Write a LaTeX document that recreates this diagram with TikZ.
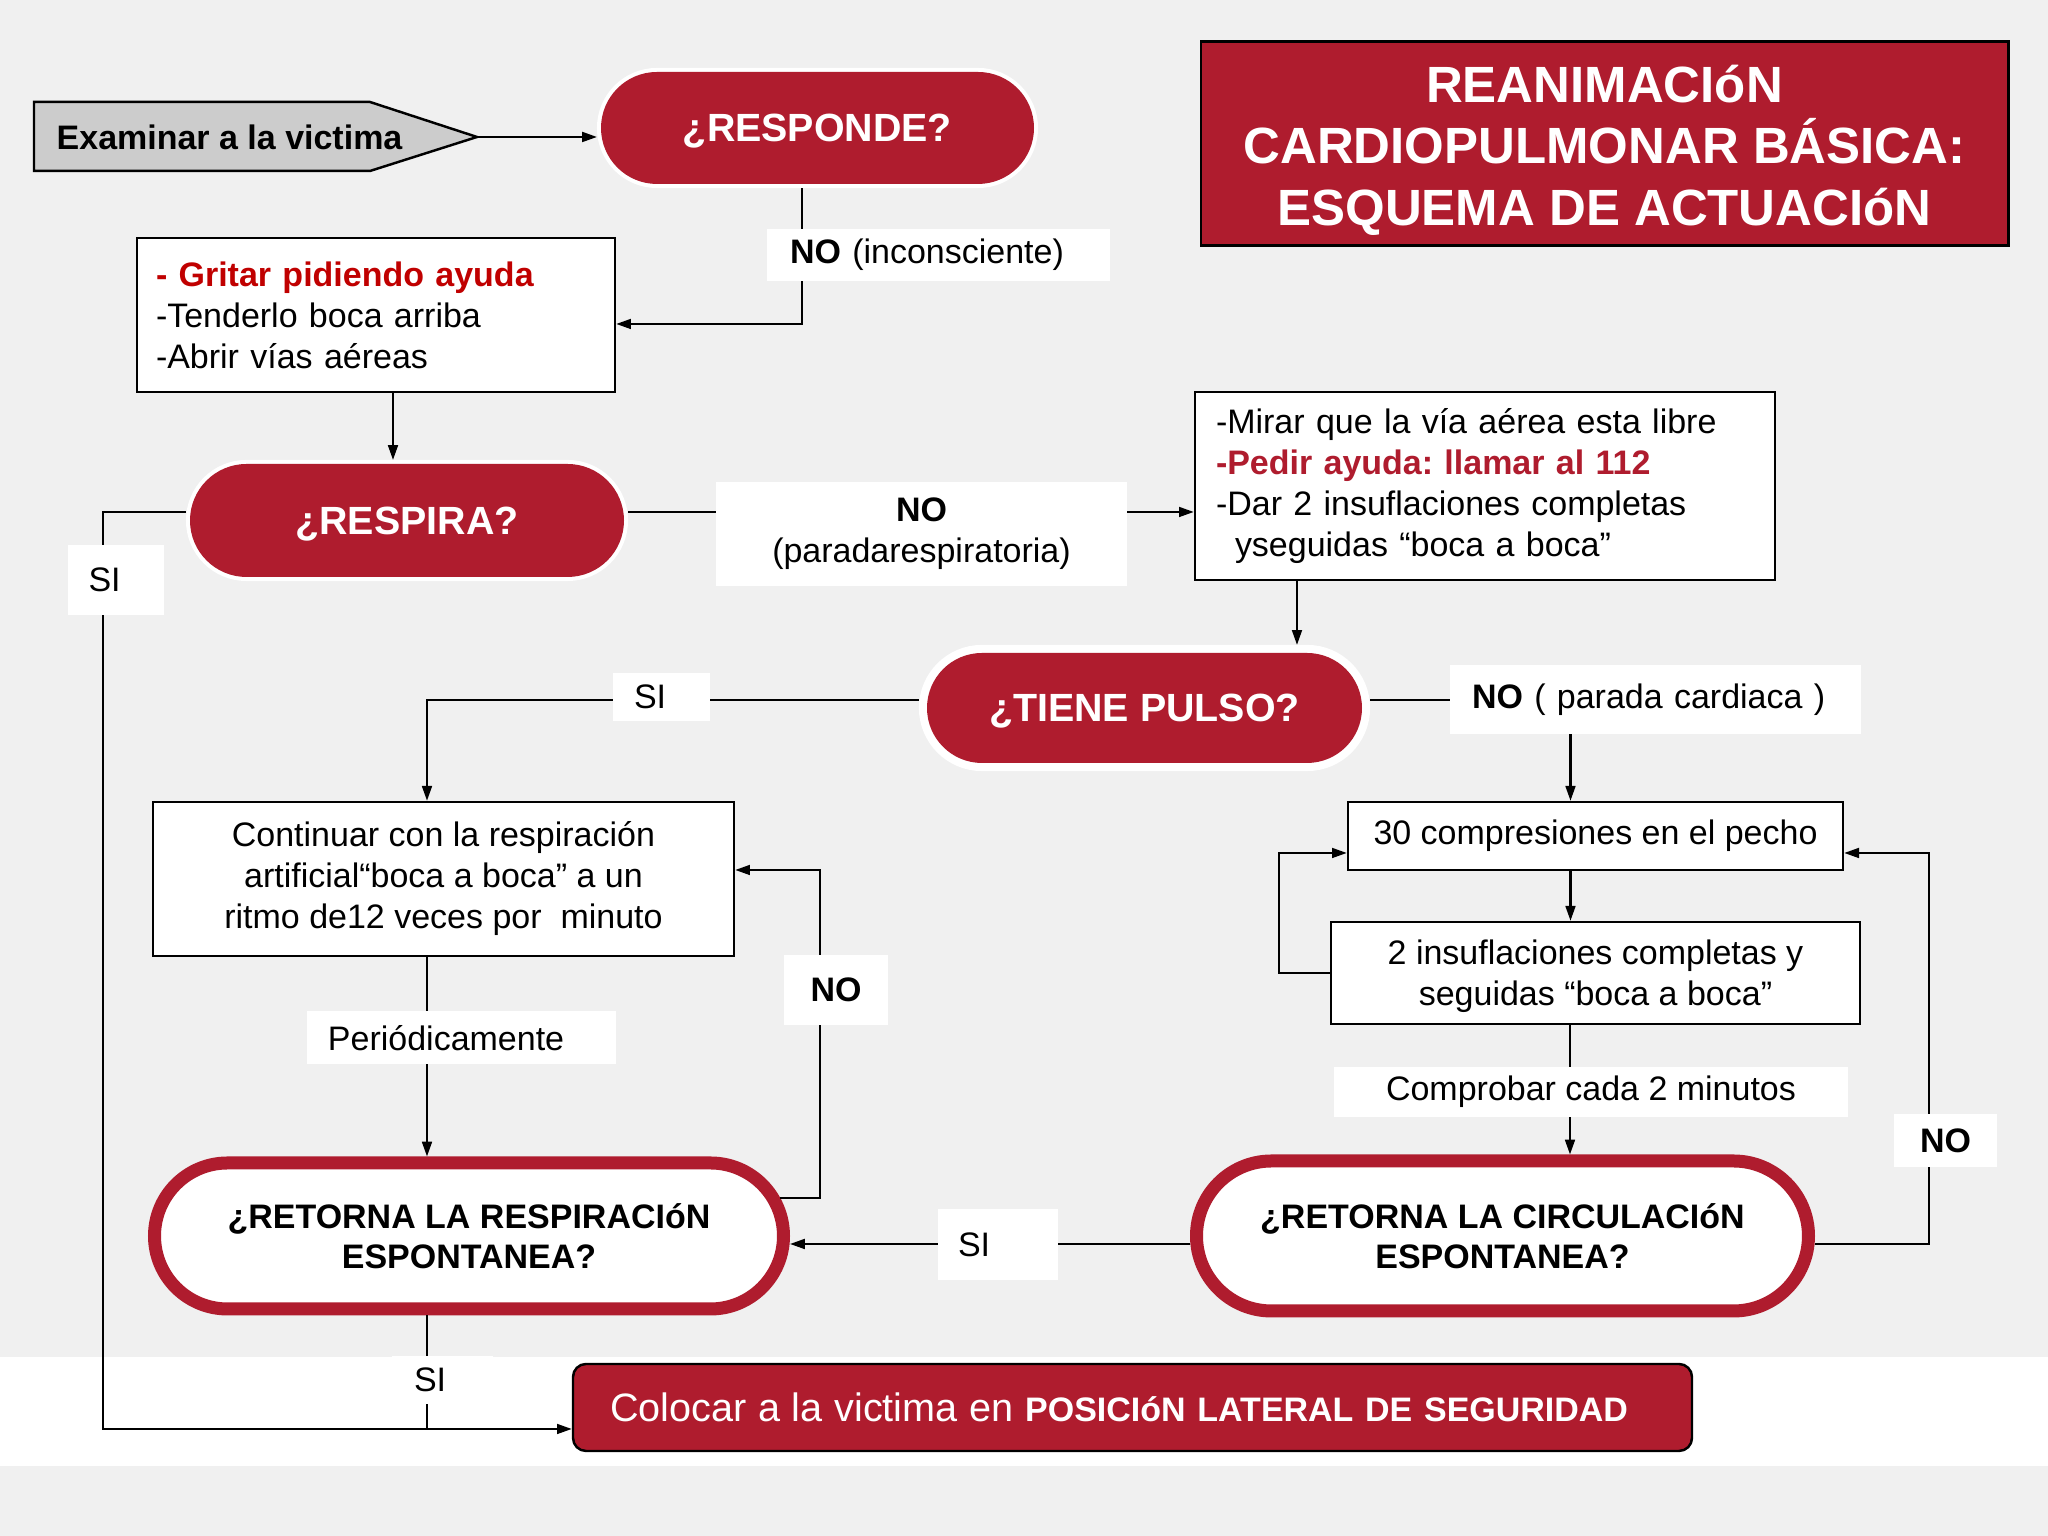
\documentclass[tikz,border=0pt]{standalone}
\usepackage{fontspec}
\setmainfont{Liberation Sans}
\usetikzlibrary{shapes.misc,arrows.meta}
\frenchspacing

\definecolor{rojocpr}{RGB}{175,28,46}
\definecolor{rojogrito}{RGB}{192,0,0}
\definecolor{fondo}{RGB}{240,240,240}
\definecolor{grisinicio}{RGB}{204,204,204}

\tikzset{
  pregunta/.style={rounded rectangle, fill=rojocpr, text=white, inner sep=0pt, text depth=0pt,
    font=\bfseries\fontsize{11.2}{13.4}\selectfont,
    preaction={draw=white,line width=2.3pt}, outer sep=1.15pt},
  retorno/.style={rounded rectangle, fill=white, draw=rojocpr, line width=3.7pt,
    outer sep=1.85pt, inner sep=0pt, align=center,
    font=\bfseries\fontsize{9.67}{11.5}\selectfont},
  caja/.style={rectangle, draw=black, fill=white, line width=0.7pt,
    font=\fontsize{9.67}{11.67}\selectfont},
  rotulo/.style={fill=white, inner sep=0pt, font=\fontsize{9.67}{11.67}\selectfont},
  linea/.style={black, line width=0.6pt},
  flecha/.style={linea, -{Triangle[length=4.2pt,width=2.8pt]}},
}

\begin{document}
\begin{tikzpicture}
\useasboundingbox (0,0) rectangle (20.48,15.36);
% Background
\fill[fondo] (0,0) rectangle (20.48,15.36);
\fill[white] (0,0.70) rectangle (20.48,1.79);
% Start shape
\draw[fill=grisinicio,line width=0.7pt] (0.34,14.34) -- (3.70,14.34) -- (4.77,13.99) -- (3.70,13.65) -- (0.34,13.65) -- cycle;
\node[anchor=west,inner sep=0pt,font=\bfseries\fontsize{9.67}{11.67}\selectfont] (examinar) at (0.56,13.99) {Examinar a la victima};
\coordinate (punta) at (4.77,13.99);
% Title
\node[draw=black, line width=0.85pt, fill=rojocpr, minimum width=8.07cm, minimum height=2.04cm] (titulo) at (16.045,13.92) {};
\node[text=white, align=center, inner sep=0pt, font=\bfseries\fontsize{14.5}{17.5}\selectfont] (titulotexto)
  at ([yshift=-0.6mm]titulo.center) {REANIMACIóN\\CARDIOPULMONAR BÁSICA:\\ESQUEMA DE ACTUACIóN};
% Questions
\node[pregunta, minimum width=4.33cm, minimum height=1.12cm] (responde) at (8.175,14.08) {¿RESPONDE?};
\node[pregunta, minimum width=4.34cm, minimum height=1.13cm] (respira) at (4.07,10.155) {¿RESPIRA?};
\node[pregunta, preaction={draw=white,line width=4.6pt}, outer sep=2.3pt,
  minimum width=4.35cm, minimum height=1.10cm] (pulso) at (11.445,8.28) {¿TIENE PULSO?};
% Boxes
\node[caja, text width=4.40cm, align=left, inner xsep=1.9mm, minimum height=1.54cm] (gritar) at (3.76,12.21)
  {\textcolor{rojogrito}{\bfseries - Gritar pidiendo ayuda}\\-Tenderlo boca arriba\\-Abrir vías aéreas};
\node[caja, text width=5.38cm, align=left, inner xsep=2.1mm, minimum height=1.88cm] (mirar) at (14.85,10.50)
  {-Mirar que la vía aérea esta libre\\\textcolor{rojocpr}{\bfseries -Pedir ayuda: llamar al 112}\\-Dar 2 insuflaciones completas\\\hspace*{1.9mm}yseguidas “boca a boca”};
\node[caja, align=center, minimum width=5.81cm, minimum height=1.54cm] (continuar) at (4.435,6.57)
  {Continuar con la respiración\\artificial“boca a boca” a un\\ritmo de12 veces por\ \ minuto};
\node[caja, minimum width=4.95cm, minimum height=0.68cm] (compresiones) at (15.955,7.00) {30 compresiones en el pecho};
\node[caja, align=center, minimum width=5.29cm, minimum height=1.02cm, text depth=0pt] (insuflaciones) at (15.955,5.63)
  {2 insuflaciones completas y\\seguidas “boca a boca”};
\node[retorno, minimum width=6.29cm, minimum height=1.46cm] (retresp) at (4.69,3.00) {¿RETORNA LA RESPIRACIóN\\ESPONTANEA?};
\node[retorno, minimum width=6.12cm, minimum height=1.50cm] (retcirc) at (15.025,3.00) {¿RETORNA LA CIRCULACIóN\\ESPONTANEA?};
\node[draw=black, fill=rojocpr, line width=0.7pt, rounded corners=1.3mm, text=white,
  text width=10.45cm, align=left, inner xsep=3.7mm, minimum height=0.87cm] (colocar) at (11.325,1.285)
  {{\fontsize{11.27}{13.5}\selectfont Colocar a la victima en }{\bfseries\fontsize{9.67}{11.67}\selectfont POSICIóN LATERAL DE SEGURIDAD}};
% Connectors
\coordinate (sibase) at ([yshift=-2.15mm]colocar.west);
\coordinate (izq) at (1.03,10.0);
\draw[flecha] (punta) -- (punta -| responde.west);
\draw[flecha] ([xshift=-1.55mm]responde.south) |- ([yshift=-0.9mm]gritar.east);
\draw[flecha] ([xshift=1.7mm]gritar.south) -- ([xshift=1.7mm]gritar.south |- respira.north);
\draw[flecha] ([yshift=0.85mm]respira.east) -- ([yshift=0.85mm]respira.east -| mirar.west);
\draw[flecha] ([yshift=0.85mm]respira.west) -| (izq) |- (sibase);
\draw[flecha] ([xshift=-18.8mm]mirar.south) -- ([xshift=-18.8mm]mirar.south |- pulso.north);
\draw[flecha] ([yshift=0.8mm]pulso.west) -| ([xshift=-1.65mm]continuar.north);
\draw[flecha] ([yshift=0.8mm]pulso.east) -| ([xshift=-2.5mm]compresiones.north);
\draw[flecha] ([xshift=-2.5mm]compresiones.south) -- ([xshift=-2.5mm]compresiones.south |- insuflaciones.north);
\draw[flecha] (insuflaciones.west) -| ([xshift=-6.8mm,yshift=-1.7mm]compresiones.west) -- ([yshift=-1.7mm]compresiones.west);
\draw[flecha] ([xshift=-2.55mm]insuflaciones.south) -- ([xshift=-2.55mm]insuflaciones.south |- retcirc.north);
\draw[flecha] ([yshift=-0.8mm]retcirc.east) -| ([xshift=8.5mm,yshift=-1.7mm]compresiones.east) -- ([yshift=-1.7mm]compresiones.east);
\draw[flecha] ([yshift=-0.8mm]retcirc.west) -- ([yshift=-0.8mm]retcirc.west -| retresp.east);
\draw[flecha] ([xshift=-1.65mm]continuar.south) -- ([xshift=-1.65mm]continuar.south |- retresp.north);
\draw[flecha] (retresp.7) -| ([xshift=8.5mm,yshift=0.9mm]continuar.east) -- ([yshift=0.9mm]continuar.east);
\draw[linea] ([xshift=-4.2mm]retresp.south) -- ([xshift=-4.2mm]retresp.south |- sibase);
% Labels
\node[rotulo, text width=2.97cm, align=left, inner xsep=2.3mm, minimum height=0.52cm] (noincons) at (9.385,12.81) {\textbf{NO} (inconsciente)};
\node[rotulo, align=center, minimum width=4.11cm, minimum height=1.04cm] (noparada) at (9.215,10.02) {\textbf{NO}\\(paradarespiratoria)};
\node[rotulo, text width=0.54cm, align=left, inner xsep=2.1mm, minimum height=0.70cm] (sirespira) at (1.155,9.56) {SI};
\node[rotulo, text width=0.55cm, align=left, inner xsep=2.1mm, minimum height=0.48cm] (sipulso) at (6.615,8.39) {SI};
\node[rotulo, text width=3.67cm, align=left, inner xsep=2.2mm, minimum height=0.69cm] (nopulso) at (16.555,8.365) {\textbf{NO} ( parada cardiaca )};
\node[rotulo, minimum width=5.14cm, minimum height=0.50cm] (comprobar) at (15.91,4.44) {Comprobar cada 2 minutos};
\node[rotulo, minimum width=1.03cm, minimum height=0.53cm] (nocirc) at (19.455,3.95) {\textbf{NO}};
\node[rotulo, text width=0.80cm, align=left, inner xsep=2.0mm, minimum height=0.71cm] (sicirc) at (9.98,2.915) {SI};
\node[rotulo, text width=2.66cm, align=left, inner xsep=2.15mm, minimum height=0.53cm] (periodic) at (4.61,4.98) {Periódicamente};
\node[rotulo, minimum width=1.04cm, minimum height=0.70cm] (noresp) at (8.36,5.46) {\textbf{NO}};
\node[rotulo, text width=0.57cm, align=left, inner xsep=2.2mm, minimum height=0.48cm] (siresp) at (4.425,1.56) {SI};
\end{tikzpicture}
\end{document}
